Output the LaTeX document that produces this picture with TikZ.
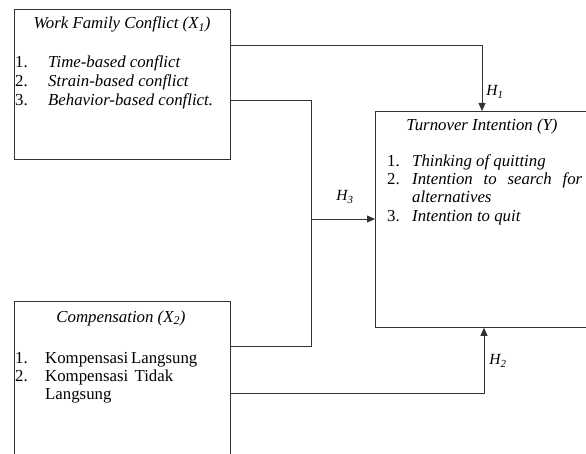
\documentclass[tikz,border=0pt]{standalone}
\usepackage{fontspec}
\setmainfont{Liberation Serif}
\usetikzlibrary{arrows.meta}
\begin{document}
\begin{tikzpicture}[x=1pt,y=-1pt,
  box/.style={draw=black!80, line width=0.8pt, rectangle, inner sep=0pt, anchor=north west},
  txt/.style={inner sep=0pt, anchor=base west, font=\fontsize{16.8}{18}\selectfont},
  ttl/.style={inner sep=0pt, anchor=base, font=\fontsize{16.8}{18}\selectfont\itshape},
  hlab/.style={inner sep=0pt, font=\fontsize{15.5}{17}\selectfont\itshape},
  conn/.style={draw=black!80, line width=0.8pt},
  arr/.style={conn, -{Triangle[length=8pt,width=7pt]}}]
\clip (0,0) rectangle (586,454);
\useasboundingbox (0,0) rectangle (586,454);
% boxes
\node[box, minimum width=216pt, minimum height=150pt] (wfc) at (14,9) {};
\node[box, minimum width=240pt, minimum height=216pt] (ti) at (375,111) {};
\node[box, minimum width=216pt, minimum height=170pt] (comp) at (14,301) {};
% box 1 text
\node[ttl] (wfct) at (122,29) {Work Family Conflict (X\textsubscript{1})};
\node[txt] (w1n) at (15,68) {1.};
\node[txt] (w1) at (48,68) {\itshape Time-based conflict};
\node[txt] (w2n) at (15,87) {2.};
\node[txt] (w2) at (48,87) {\itshape Strain-based conflict};
\node[txt] (w3n) at (15,106) {3.};
\node[txt] (w3) at (48,106) {\itshape Behavior-based conflict.};
% Y box text
\node[ttl] (tit) at (482,131) {Turnover Intention (Y)};
\node[txt] (t1n) at (387,167) {1.};
\node[txt] (t1) at (412,167) {\itshape Thinking of quitting};
\node[txt] (t2n) at (387,185) {2.};
\node[txt] (t2) at (412,185) {\itshape\makebox[170pt][s]{Intention to search for}};
\node[txt] (t2b) at (412,203) {\itshape alternatives};
\node[txt] (t3n) at (387,222) {3.};
\node[txt] (t3) at (412,222) {\itshape Intention to quit};
% comp box text
\node[ttl] (compt) at (121,322) {Compensation (X\textsubscript{2})};
\node[txt] (c1n) at (15,363) {1.};
\node[txt] (c1) at (45,363) {\makebox[152pt][s]{Kompensasi Langsung}};
\node[txt] (c2n) at (15,381) {2.};
\node[txt] (c2) at (45,381) {\makebox[128pt][s]{Kompensasi Tidak}};
\node[txt] (c2b) at (45,399) {Langsung};
% connectors
\coordinate (h1c) at (482,45);
\draw[arr] (wfc.east |- h1c) -- (h1c) -- (ti.north -| h1c);
\coordinate (h3top) at (311,100);
\coordinate (h3bot) at (311,346);
\coordinate (h3mid) at (311,219);
\draw[conn] (wfc.east |- h3top) -- (h3top) -- (h3bot) -- (comp.east |- h3bot);
\draw[arr] (h3mid) -- (ti.west |- h3mid);
\coordinate (h2c) at (484,393);
\draw[arr] (comp.east |- h2c) -- (h2c) -- (ti.south -| h2c);
% labels
\node[hlab] (h1) at (495,92) {H\textsubscript{1}};
\node[hlab] (h3) at (345,197) {H\textsubscript{3}};
\node[hlab] (h2) at (498,361) {H\textsubscript{2}};
\end{tikzpicture}
\end{document}
